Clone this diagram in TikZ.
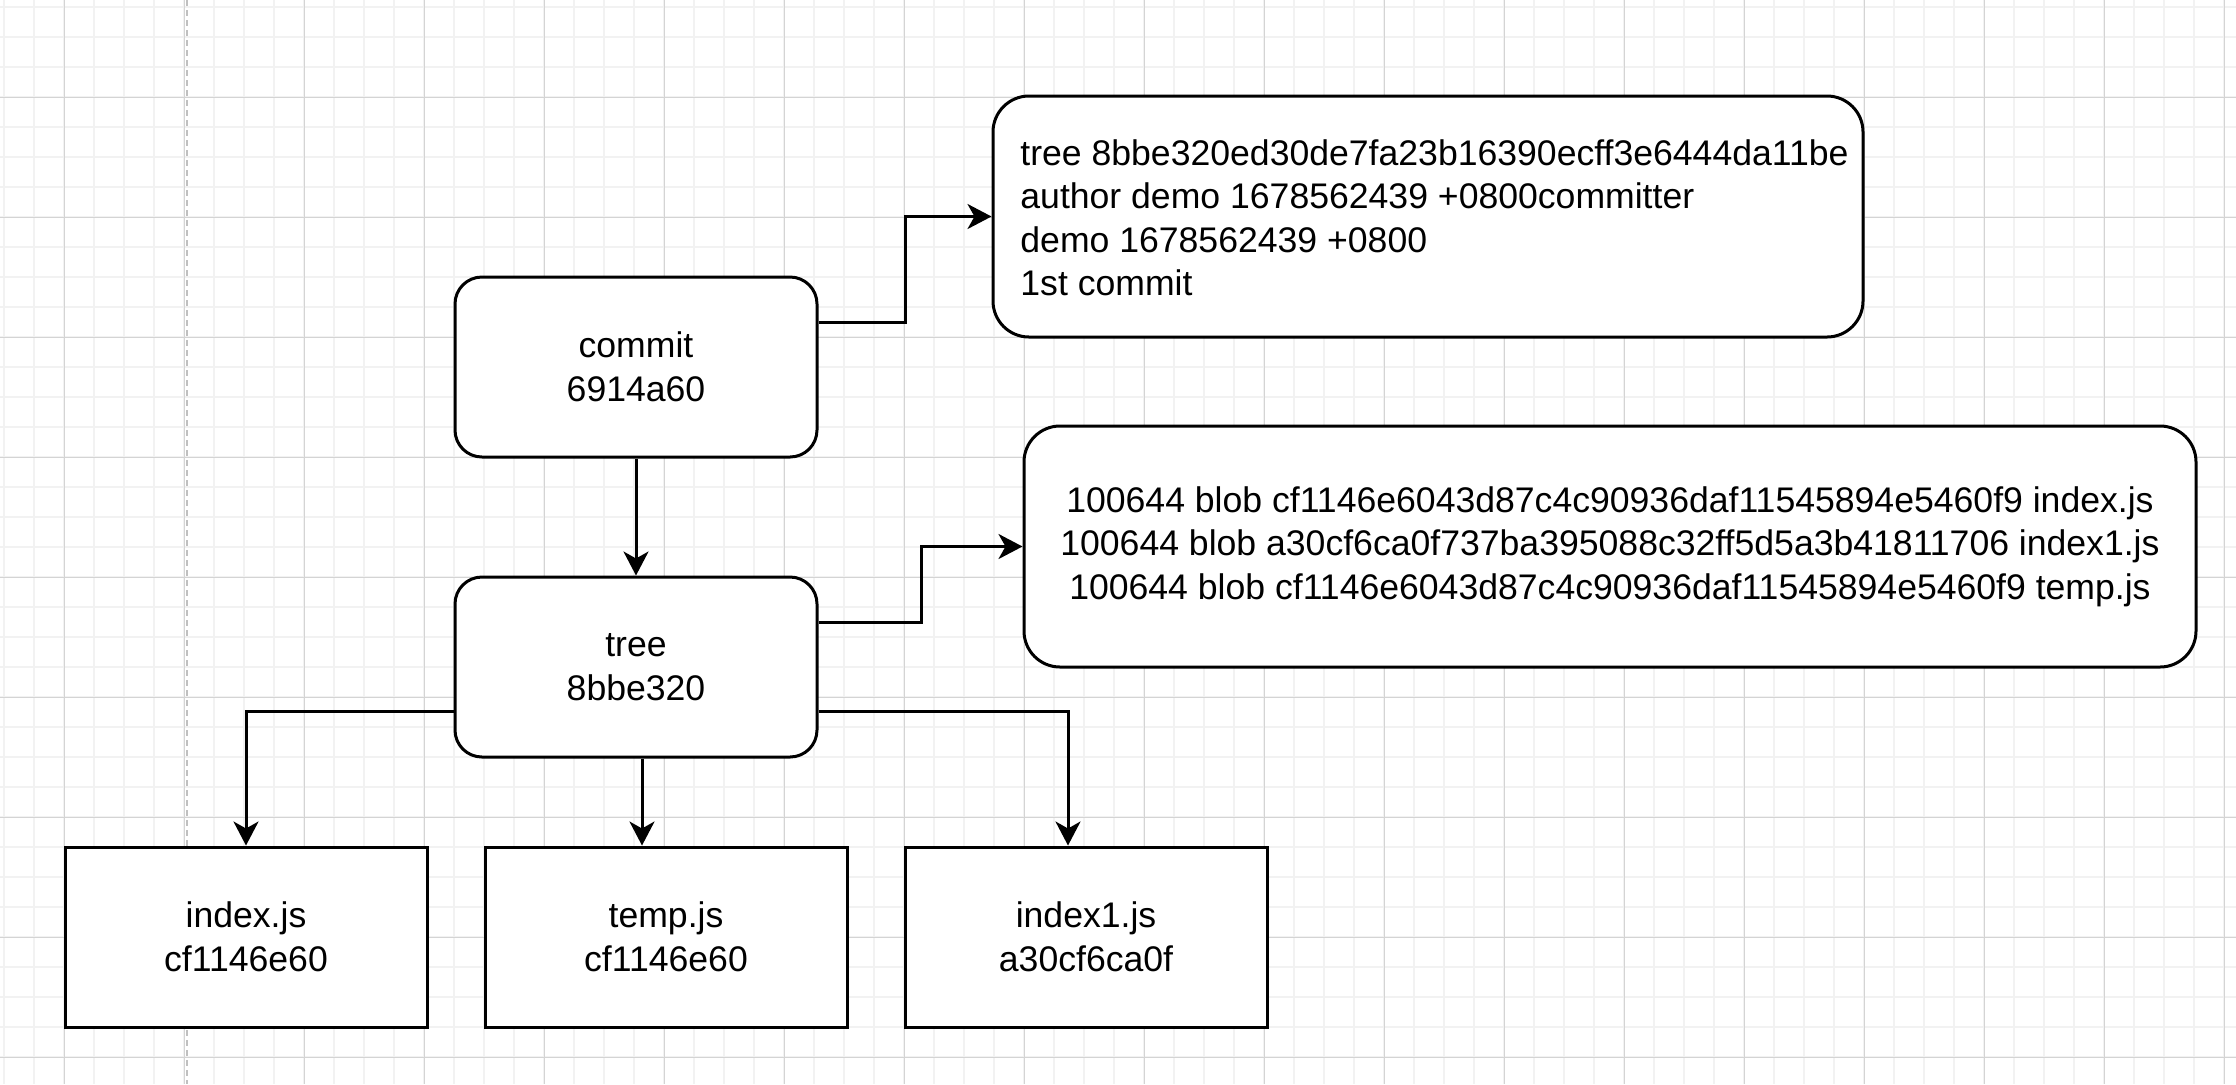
\documentclass[tikz,border=0pt]{standalone}
\usepackage{fontspec}
\setmainfont{Liberation Sans}
\usetikzlibrary{arrows.meta}
\definecolor{gridminor}{HTML}{F2F2F2}
\definecolor{gridmajor}{HTML}{D4D4D4}
\definecolor{pagebreak}{HTML}{C0C0C0}
\tikzset{
  obj/.style={draw=black, line width=1.5pt, fill=white, minimum width=181pt,
    minimum height=90pt, inner sep=0pt, align=center,
    font=\fontsize{17.8pt}{21.75pt}\selectfont},
  roundobj/.style={obj, rounded corners=13.5pt},
  bigbox/.style={draw=black, line width=1.5pt, fill=white, rounded corners=18pt,
    inner sep=0pt, align=center, font=\fontsize{17.8pt}{21.75pt}\selectfont},
  conn/.style={draw=black, line width=1.5pt,
    -{Stealth[length=12pt,width=12.5pt,inset=3.5pt]}},
}
\begin{document}
\begin{tikzpicture}[x=0.5pt,y=-0.5pt]
\useasboundingbox (0,0) rectangle (2236,1084);
\fill[white] (0,0) rectangle (2236,1084);
% grid
\foreach \x in {4,34,...,2236} \draw[gridminor, line width=0.75pt] (\x,0) -- (\x,1084);
\foreach \y in {7,37,...,1084} \draw[gridminor, line width=0.75pt] (0,\y) -- (2236,\y);
\foreach \x in {64,184,...,2236} \draw[gridmajor, line width=0.5pt] (\x,0) -- (\x,1084);
\foreach \y in {97,217,...,1084} \draw[gridmajor, line width=0.5pt] (0,\y) -- (2236,\y);
\draw[pagebreak, line width=0.75pt, dash pattern=on 3pt off 2pt] (187,0) -- (187,1084);

% nodes
\node[roundobj] (commit) at (636,367) {commit\\6914a60};
\node[roundobj] (tree) at (636,667) {tree\\8bbe320};
\node[obj] (index) at (246,937) {index.js\\cf1146e60};
\node[obj] (temp) at (666,937) {temp.js\\cf1146e60};
\node[obj] (index1) at (1086,937) {index1.js\\a30cf6ca0f};
\node[bigbox, minimum width=435pt, minimum height=120.5pt] (info) at (1428,216.5) {};
\node[anchor=west, inner sep=0pt, align=left, font=\fontsize{17.8pt}{21.75pt}\selectfont] (infotext) at (1020,218)
  {tree 8bbe320ed30de7fa23b16390ecff3e6444da11be\\author demo 1678562439 +0800committer\\demo 1678562439 +0800\\1st commit};
\node[bigbox, minimum width=586pt, minimum height=120.5pt] (blobs) at (1610,546.5)
  {100644 blob cf1146e6043d87c4c90936daf11545894e5460f9 index.js\\
   100644 blob a30cf6ca0f737ba395088c32ff5d5a3b41811706 index1.js\\
   100644 blob cf1146e6043d87c4c90936daf11545894e5460f9 temp.js};

% connectors
\draw[conn] (commit) -- (tree);
\draw[conn] ([yshift=22.5pt]commit.east) -- ++(43.5pt,0) |- (info.west);
\draw[conn] ([yshift=22.5pt]tree.east) -- ++(51.5pt,0) |- (blobs.west);
\draw[conn] ([yshift=-22pt]tree.west) -| (index.north);
\draw[conn] ([xshift=3pt]tree.south) -- ([xshift=3pt]tree.south |- temp.north);
\draw[conn] ([yshift=-22pt]tree.east) -| ([xshift=-9pt]index1.north);
\end{tikzpicture}
\end{document}
